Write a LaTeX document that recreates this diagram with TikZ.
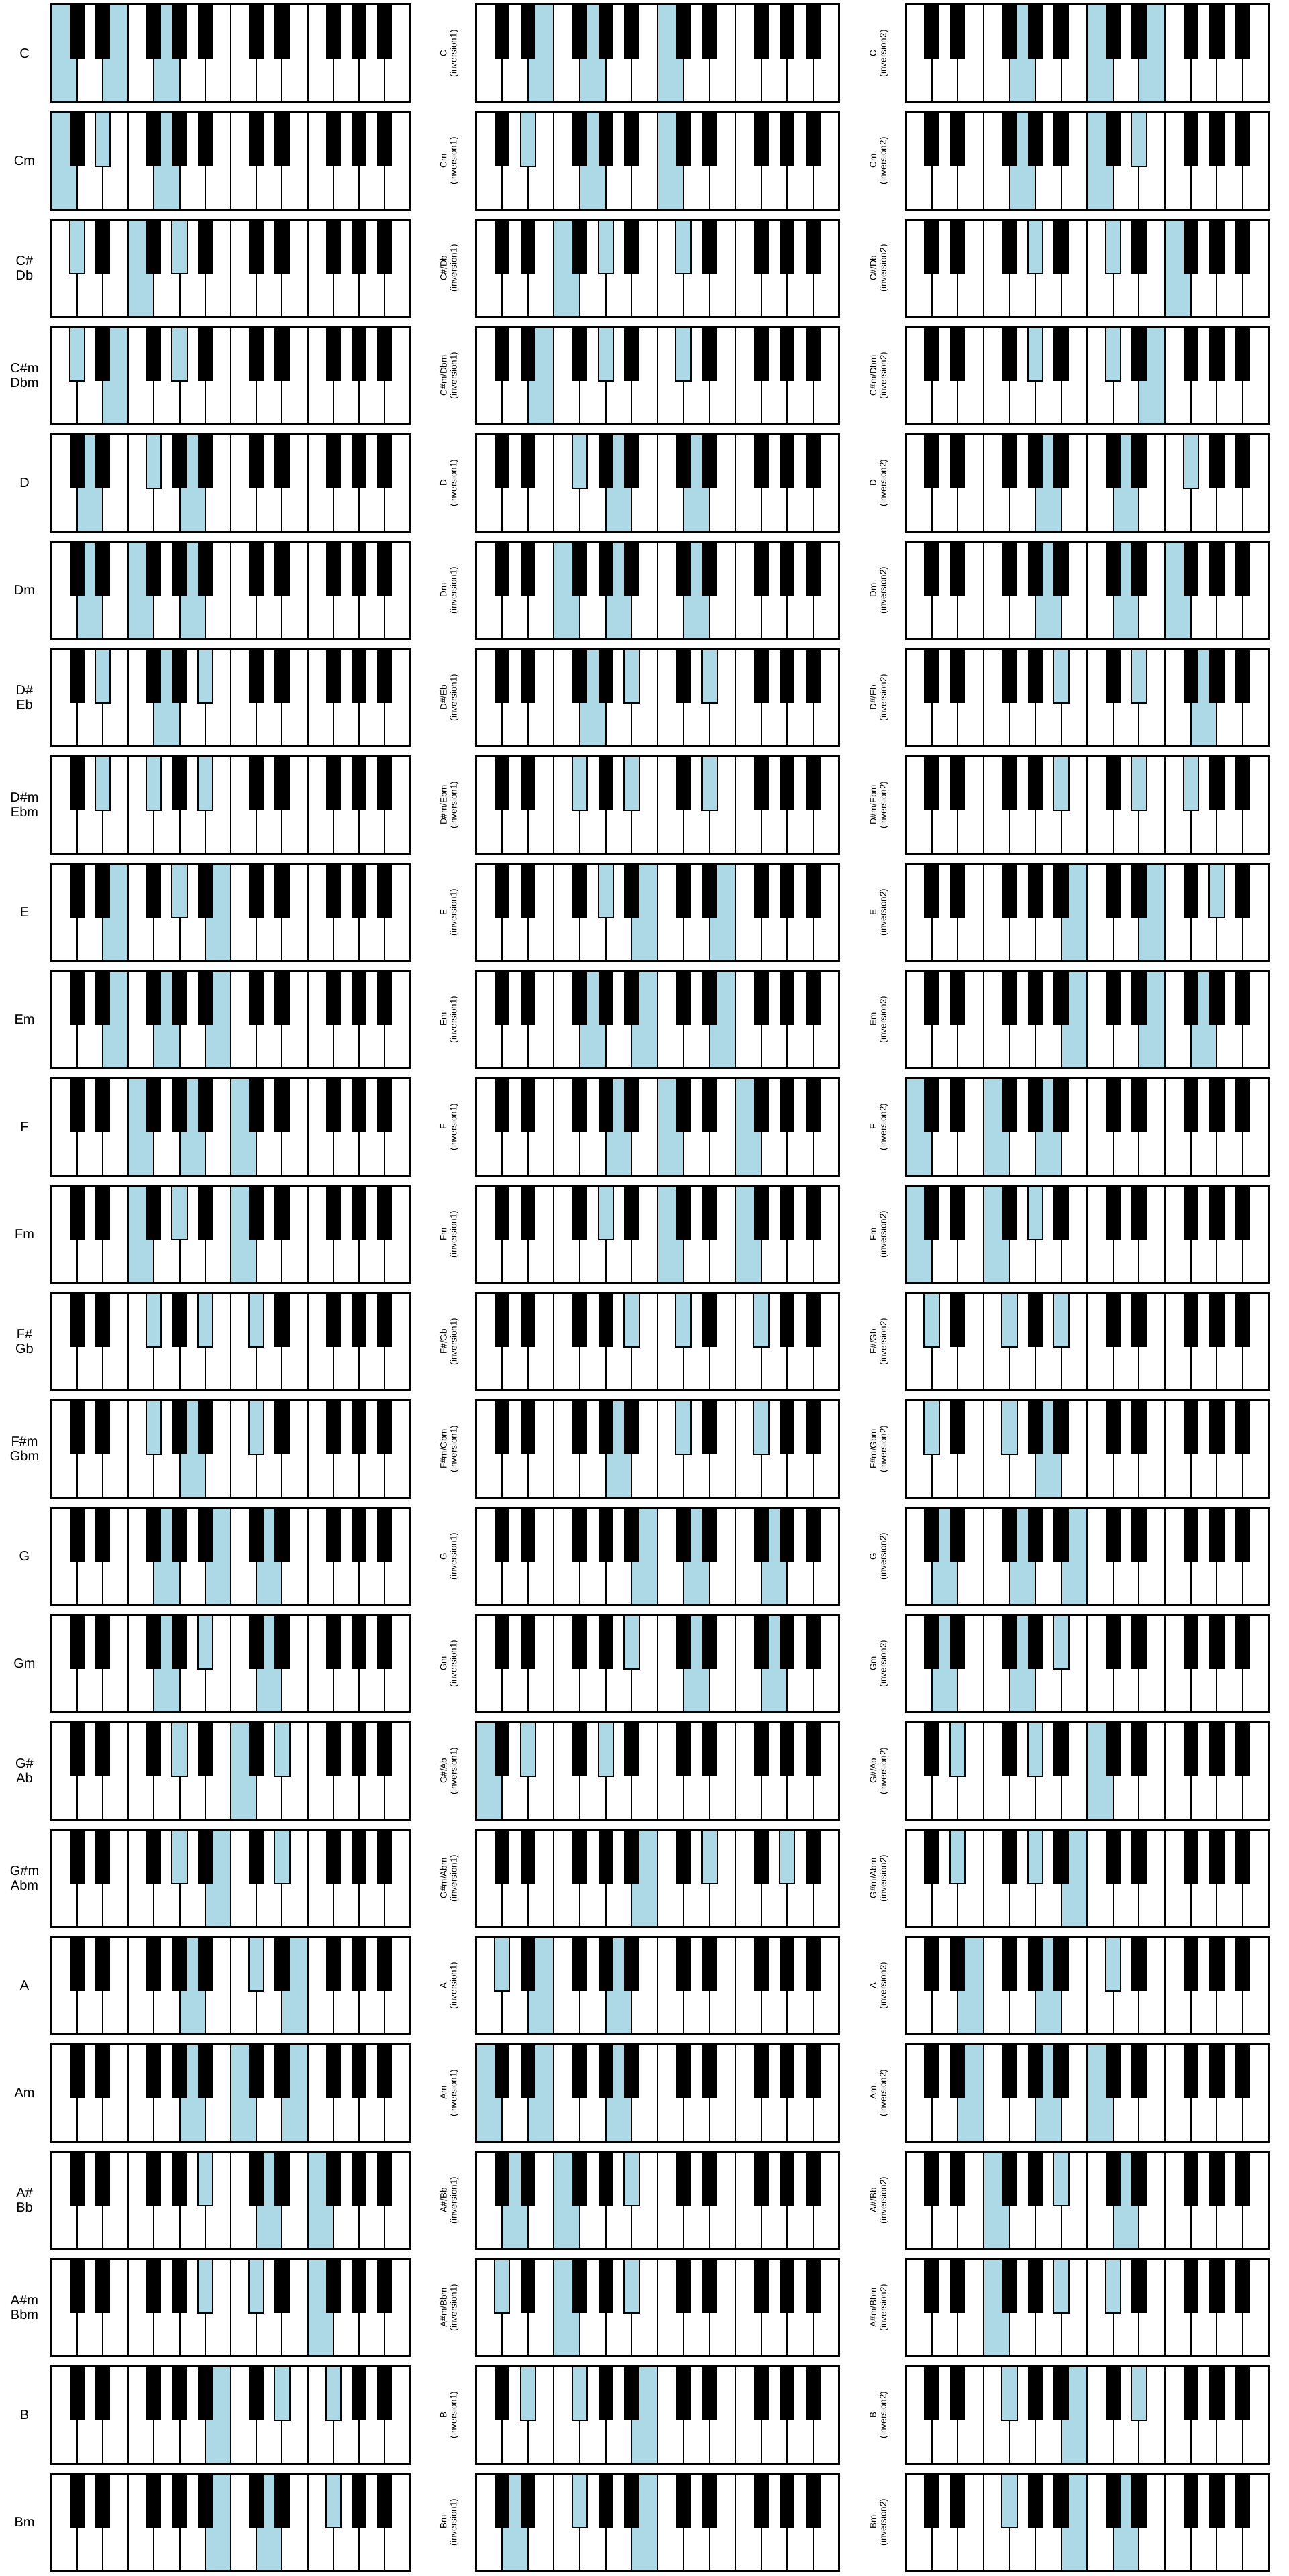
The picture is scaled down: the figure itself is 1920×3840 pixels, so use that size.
\documentclass[tikz,border=0pt]{standalone}
\usepackage{fontspec}
\setmainfont{Liberation Sans}
\usepackage{xcolor}
\usepackage{tikz}

\definecolor{keyblue}{HTML}{ADD8E6}

\begin{document}
\begin{tikzpicture}[x=1pt, y=-1pt,
      whitekey/.style={draw=black, line width=2pt, fill=white},
      whiteon/.style={whitekey, fill=keyblue},
      blackkey/.style={fill=black},
      blackon/.style={draw=black, line width=2pt, fill=keyblue},
      frame/.style={draw=black, line width=3pt},
      rootlab/.style={align=center, inner sep=0pt,
          font=\fontsize{20}{22.5}\selectfont},
      invlab/.style={align=center, inner sep=0pt, rotate=90,
          font=\fontsize{13.5}{15}\selectfont}
    ]
    \useasboundingbox (0,0) rectangle (1920,3840);

    % one keyboard per chord and inversion
    \foreach \r in {0,...,23}{
      \pgfmathsetmacro\yo{7+160*\r}
      \pgfmathtruncatemacro\tonic{int(\r/2)}
      \pgfmathtruncatemacro\third{4-mod(\r,2)}
      \foreach \c/\xo/\wd in {0/76.5/535, 1/709.5/541, 2/1350/540.5}{
        \pgfmathsetmacro\kw{\wd/14}
        \pgfmathtruncatemacro\nA{mod(\tonic+((\c==0)?0:((\c==1)?\third:7)),12)}
        \pgfmathtruncatemacro\nB{\nA+((\c==0)?\third:((\c==1)?(7-\third):5))}
        \pgfmathtruncatemacro\nC{\nB+((\c==0)?(7-\third):((\c==1)?5:\third))}
        \foreach \k in {0,...,13}
          \draw[whitekey] (\xo+\k*\kw,\yo) rectangle ++(\kw,145.5);
        \foreach \n in {\nA,\nB,\nC}{
          \pgfmathtruncatemacro\pc{mod(\n,12)}
          \pgfmathtruncatemacro\isblack{{0,1,0,1,0,0,1,0,1,0,1,0}[\pc]}
          \pgfmathtruncatemacro\slot{{0,1,1,2,2,3,4,4,5,5,6,6}[\pc]+7*int(\n/12)}
          \ifnum\isblack=0
            \draw[whiteon] (\xo+\slot*\kw,\yo) rectangle ++(\kw,145.5);
          \fi
        }
        \foreach \k in {1,2,4,5,6,8,9,11,12,13}
          \fill[blackkey] (\xo+\k*\kw-0.29*\kw,\yo) rectangle ++(0.58*\kw,81);
        \foreach \n in {\nA,\nB,\nC}{
          \pgfmathtruncatemacro\pc{mod(\n,12)}
          \pgfmathtruncatemacro\isblack{{0,1,0,1,0,0,1,0,1,0,1,0}[\pc]}
          \pgfmathtruncatemacro\slot{{0,1,1,2,2,3,4,4,5,5,6,6}[\pc]+7*int(\n/12)}
          \ifnum\isblack=1
            \draw[blackon] (\xo+\slot*\kw-0.29*\kw,\yo) rectangle ++(0.58*\kw,81);
          \fi
        }
        \draw[frame] (\xo,\yo) rectangle ++(\wd,145.5);
      }
    }

    % chord names
    \foreach \r/\short/\long in {0/C/C, 1/Cm/Cm, 2/{C\#\\Db}/{C\#/Db},
        3/{C\#m\\Dbm}/{C\#m/Dbm}, 4/D/D, 5/Dm/Dm, 6/{D\#\\Eb}/{D\#/Eb},
        7/{D\#m\\Ebm}/{D\#m/Ebm}, 8/E/E, 9/Em/Em, 10/F/F, 11/Fm/Fm,
        12/{F\#\\Gb}/{F\#/Gb}, 13/{F\#m\\Gbm}/{F\#m/Gbm}, 14/G/G, 15/Gm/Gm,
        16/{G\#\\Ab}/{G\#/Ab}, 17/{G\#m\\Abm}/{G\#m/Abm}, 18/A/A, 19/Am/Am,
        20/{A\#\\Bb}/{A\#/Bb}, 21/{A\#m\\Bbm}/{A\#m/Bbm}, 22/B/B, 23/Bm/Bm}{
      \node[rootlab] (root\r) at (36.5,79.75+160*\r) {\short};
      \node[invlab] (first\r) at (669.5,79.75+160*\r) {\long\\(inversion1)};
      \node[invlab] (second\r) at (1310,79.75+160*\r) {\long\\(inversion2)};
    }
  \end{tikzpicture}
\end{document}
